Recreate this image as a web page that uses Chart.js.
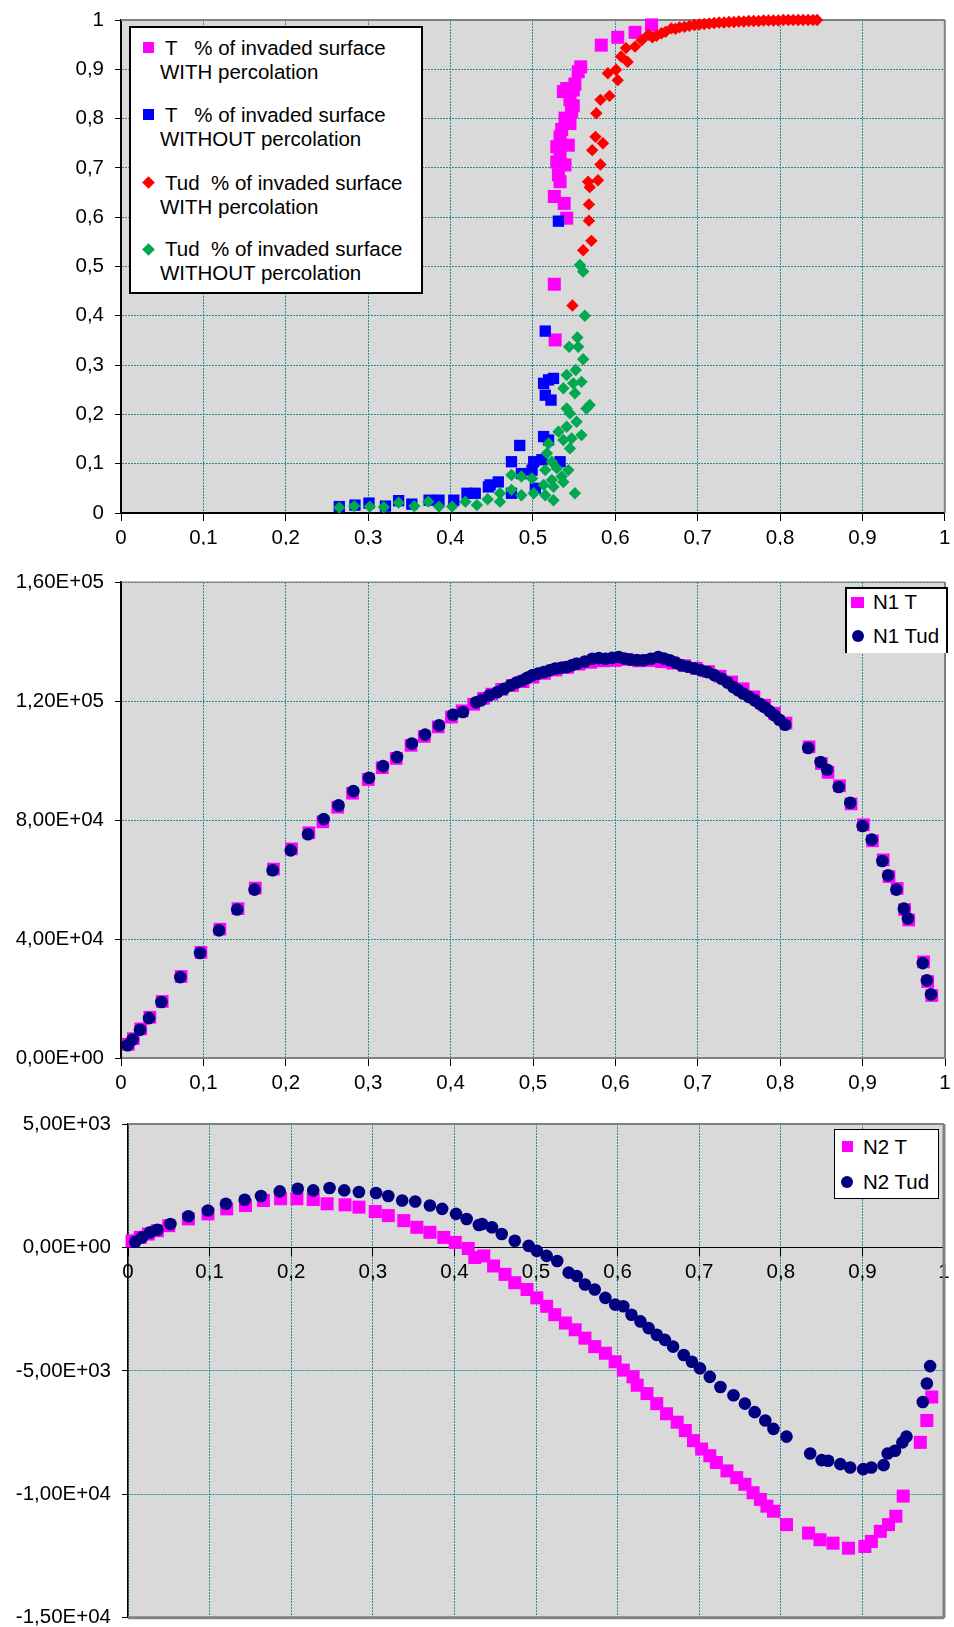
<!DOCTYPE html>
<html>
<head>
<meta charset="utf-8">
<script src="https://cdn.jsdelivr.net/npm/chart.js@4.4.1/dist/chart.umd.min.js"></script>
<style>
  body { margin: 0; background: #fff; }
  #page { position: relative; width: 954px; height: 1627px; overflow: hidden;
          font-family: "Liberation Sans", Arial, sans-serif; }
  canvas { position: absolute; left: 0; }
  .legend { position: absolute; background: #fff; box-sizing: border-box; }
  .txt { position: absolute; white-space: pre; font-size: 20.5px; line-height: 24px; color: #000; }
  .mk { position: absolute; }
</style>
</head>
<body>
<div id="page">
  <canvas id="chartPct" width="954" height="545" style="top:0px"></canvas>
  <canvas id="chartN1" width="954" height="560" style="top:545px"></canvas>
  <canvas id="chartN2" width="954" height="522" style="top:1105px"></canvas>

  <!-- legend, top chart -->
  <div class="legend" style="left:129px; top:26px; width:294px; height:268px; border:2px solid #000;">
    <span class="mk" style="left:12px; top:14px; width:11px; height:11px; background:#ff00ff;"></span>
    <span class="txt" style="left:34px; top:8px;">T   % of invaded surface</span>
    <span class="txt" style="left:29px; top:32px;">WITH percolation</span>

    <span class="mk" style="left:12px; top:81px; width:11px; height:11px; background:#0000ff;"></span>
    <span class="txt" style="left:34px; top:75px;">T   % of invaded surface</span>
    <span class="txt" style="left:29px; top:99px;">WITHOUT percolation</span>

    <span class="mk" style="left:13px; top:150px; width:9px; height:9px; background:#ff0000; transform:rotate(45deg);"></span>
    <span class="txt" style="left:34px; top:143px;">Tud  % of invaded surface</span>
    <span class="txt" style="left:29px; top:167px;">WITH percolation</span>

    <span class="mk" style="left:13px; top:217px; width:9px; height:9px; background:#00a850; transform:rotate(45deg);"></span>
    <span class="txt" style="left:34px; top:209px;">Tud  % of invaded surface</span>
    <span class="txt" style="left:29px; top:233px;">WITHOUT percolation</span>
  </div>

  <!-- legend, middle chart (bottom edge cut off as in the original) -->
  <div class="legend" style="left:845px; top:587px; width:103px; height:66px; border:2px solid #000; border-bottom:none;">
    <span class="mk" style="left:4px; top:8px; width:13px; height:11px; background:#ff00ff;"></span>
    <span class="txt" style="left:26px; top:1px;">N1 T</span>
    <span class="mk" style="left:5px; top:41px; width:12px; height:12px; border-radius:50%; background:#000080;"></span>
    <span class="txt" style="left:26px; top:35px;">N1 Tud</span>
  </div>

  <!-- legend, bottom chart -->
  <div class="legend" style="left:834px; top:1129px; width:105px; height:70px; border:1px solid #000;">
    <span class="mk" style="left:7px; top:11px; width:11px; height:11px; background:#ff00ff;"></span>
    <span class="txt" style="left:28px; top:5px;">N2 T</span>
    <span class="mk" style="left:6px; top:46px; width:12px; height:12px; border-radius:50%; background:#000080;"></span>
    <span class="txt" style="left:28px; top:40px;">N2 Tud</span>
  </div>
</div>

<script>
// tick labels
const xTickLabels = ['0', '0,1', '0,2', '0,3', '0,4', '0,5', '0,6', '0,7', '0,8', '0,9', '1'];
const pctTickLabels = ['0', '0,1', '0,2', '0,3', '0,4', '0,5', '0,6', '0,7', '0,8', '0,9', '1'];
const n1TickLabels = ['0,00E+00', '4,00E+04', '8,00E+04', '1,20E+05', '1,60E+05'];
const n2TickLabels = ['-1,50E+04', '-1,00E+04', '-5,00E+03', '0,00E+00', '5,00E+03'];

// top chart: % of invaded surface, [x, y]
const tWithPerc = [
  [0.644, 0.990], [0.624, 0.975], [0.603, 0.965], [0.583, 0.949], [0.558, 0.905], [0.555, 0.895],
  [0.551, 0.870], [0.541, 0.861], [0.537, 0.855], [0.549, 0.858], [0.545, 0.838], [0.549, 0.826],
  [0.547, 0.814], [0.539, 0.801], [0.545, 0.790], [0.535, 0.778], [0.533, 0.763], [0.529, 0.743],
  [0.543, 0.746], [0.533, 0.726], [0.529, 0.712], [0.539, 0.706], [0.531, 0.686], [0.533, 0.672],
  [0.526, 0.642], [0.538, 0.628], [0.541, 0.598], [0.526, 0.464], [0.527, 0.351]
];
const tWithoutPerc = [
  [0.531, 0.592], [0.515, 0.369], [0.513, 0.263], [0.525, 0.273], [0.519, 0.270], [0.515, 0.239],
  [0.522, 0.229], [0.513, 0.155], [0.519, 0.148], [0.484, 0.137], [0.474, 0.104], [0.501, 0.104],
  [0.511, 0.108], [0.533, 0.104], [0.486, 0.080], [0.499, 0.087], [0.446, 0.053], [0.448, 0.057],
  [0.458, 0.063], [0.474, 0.040], [0.503, 0.050], [0.420, 0.040], [0.430, 0.040], [0.404, 0.026],
  [0.386, 0.026], [0.374, 0.026], [0.353, 0.018], [0.337, 0.025], [0.321, 0.014], [0.301, 0.020],
  [0.284, 0.016], [0.265, 0.013]
];
const tudWithPerc = [
  [0.548, 0.421], [0.561, 0.533], [0.571, 0.552], [0.568, 0.593], [0.568, 0.626], [0.567, 0.672],
  [0.569, 0.661], [0.579, 0.675], [0.582, 0.707], [0.572, 0.736], [0.585, 0.750], [0.576, 0.763],
  [0.577, 0.811], [0.582, 0.838], [0.593, 0.846], [0.591, 0.892], [0.603, 0.878], [0.601, 0.899],
  [0.607, 0.926], [0.615, 0.915], [0.613, 0.943], [0.624, 0.946], [0.632, 0.959], [0.640, 0.970],
  [0.645, 0.965], [0.650, 0.968], [0.656, 0.973], [0.661, 0.976], [0.668, 0.983], [0.673, 0.982],
  [0.678, 0.985], [0.684, 0.986], [0.690, 0.988], [0.696, 0.990], [0.702, 0.991], [0.708, 0.992],
  [0.714, 0.993], [0.720, 0.994], [0.726, 0.995], [0.732, 0.995], [0.738, 0.996], [0.744, 0.996],
  [0.750, 0.997], [0.756, 0.997], [0.762, 0.998], [0.768, 0.998], [0.774, 0.998], [0.780, 0.999],
  [0.786, 0.999], [0.792, 0.999], [0.798, 0.999], [0.804, 1.0], [0.810, 1.0], [0.816, 1.0],
  [0.822, 1.0], [0.828, 1.0], [0.834, 1.0], [0.840, 1.0], [0.845, 1.0]
];
const tudWithoutPerc = [
  [0.557, 0.503], [0.561, 0.490], [0.563, 0.400], [0.554, 0.356], [0.544, 0.337], [0.555, 0.337],
  [0.561, 0.312], [0.552, 0.290], [0.541, 0.280], [0.559, 0.266], [0.549, 0.263], [0.537, 0.253],
  [0.551, 0.243], [0.541, 0.212], [0.565, 0.212], [0.569, 0.219], [0.545, 0.202], [0.553, 0.185],
  [0.531, 0.165], [0.541, 0.175], [0.559, 0.158], [0.547, 0.151], [0.537, 0.148], [0.545, 0.131],
  [0.519, 0.141], [0.517, 0.121], [0.523, 0.104], [0.515, 0.087], [0.529, 0.091], [0.543, 0.087],
  [0.535, 0.074], [0.523, 0.067], [0.537, 0.063], [0.513, 0.057], [0.525, 0.053], [0.551, 0.040],
  [0.525, 0.026], [0.515, 0.036], [0.499, 0.070], [0.486, 0.074], [0.474, 0.077], [0.501, 0.040],
  [0.486, 0.036], [0.474, 0.047], [0.460, 0.040], [0.460, 0.023], [0.445, 0.028], [0.432, 0.016],
  [0.418, 0.023], [0.402, 0.013], [0.386, 0.013], [0.373, 0.023], [0.356, 0.014], [0.337, 0.021],
  [0.319, 0.012], [0.302, 0.013], [0.283, 0.014], [0.265, 0.011]
];

// middle chart: N1
const n1T = [
  [0.009, 4600], [0.015, 6500], [0.024, 9800], [0.035, 13700], [0.050, 19000], [0.073, 27400],
  [0.097, 35500], [0.120, 43300], [0.142, 50200], [0.163, 57100], [0.185, 63500], [0.207, 70300],
  [0.228, 75700], [0.245, 79400], [0.263, 84300], [0.281, 89000], [0.300, 93600], [0.317, 97600],
  [0.334, 100700], [0.352, 105100], [0.368, 108100], [0.385, 111300], [0.401, 114600], [0.414, 116700],
  [0.428, 118900], [0.440, 120900], [0.450, 122300], [0.462, 123900], [0.475, 125200], [0.488, 126500],
  [0.500, 128000], [0.514, 129300], [0.528, 130400], [0.542, 131300], [0.556, 132400], [0.570, 133000],
  [0.585, 133500], [0.600, 133600], [0.614, 134000], [0.628, 133500], [0.642, 133600], [0.656, 133200],
  [0.670, 132700], [0.684, 131900], [0.698, 131000], [0.713, 129900], [0.727, 128300], [0.741, 126400],
  [0.755, 124100], [0.768, 121400], [0.781, 118600], [0.793, 115900], [0.807, 112600], [0.835, 104600],
  [0.850, 99000], [0.858, 96000], [0.872, 91500], [0.886, 85400], [0.901, 78400], [0.912, 73000],
  [0.925, 66600], [0.932, 61000], [0.942, 57000], [0.951, 49900], [0.956, 46400], [0.974, 32300],
  [0.979, 25700], [0.984, 21000]
];
const n1Tud = [
  [0.008, 4300], [0.014, 6200], [0.023, 9500], [0.034, 13400], [0.049, 18800], [0.072, 27200],
  [0.096, 35300], [0.119, 42900], [0.141, 49900], [0.162, 56600], [0.184, 63100], [0.206, 69800],
  [0.227, 75200], [0.246, 80300], [0.264, 84900], [0.282, 89700], [0.301, 94200], [0.318, 98100],
  [0.335, 101200], [0.353, 105700], [0.369, 108700], [0.386, 111800], [0.403, 115400], [0.415, 116300],
  [0.431, 119600], [0.437, 120200], [0.447, 121900], [0.457, 123000], [0.465, 124100], [0.473, 125300],
  [0.480, 126200], [0.487, 126900], [0.493, 127800], [0.499, 128600], [0.506, 129200], [0.513, 129700],
  [0.520, 130300], [0.527, 130900], [0.534, 131200], [0.541, 131400], [0.547, 132000], [0.553, 132500],
  [0.563, 133300], [0.572, 134200], [0.580, 134400], [0.588, 134200], [0.596, 134500], [0.604, 134800],
  [0.611, 134300], [0.618, 133900], [0.626, 133800], [0.634, 133700], [0.643, 134200], [0.652, 134800],
  [0.659, 134300], [0.666, 133700], [0.673, 132900], [0.680, 132000], [0.688, 131500], [0.696, 130900],
  [0.704, 130300], [0.712, 129700], [0.720, 128700], [0.729, 127500], [0.736, 126200], [0.743, 124700],
  [0.749, 123600], [0.755, 122500], [0.762, 121400], [0.769, 120200], [0.775, 119100], [0.781, 118000],
  [0.787, 116600], [0.793, 115200], [0.799, 113700], [0.806, 112000], [0.834, 104200], [0.849, 99500],
  [0.857, 96900], [0.871, 91100], [0.885, 85800], [0.900, 78000], [0.911, 73400], [0.924, 66200],
  [0.931, 61400], [0.941, 56600], [0.950, 50200], [0.955, 46900], [0.973, 31900], [0.978, 26100],
  [0.983, 21400]
];

// bottom chart: N2
const n2T = [
  [0.005, 269], [0.015, 408], [0.025, 543], [0.036, 678], [0.050, 882], [0.074, 1155],
  [0.098, 1359], [0.121, 1563], [0.144, 1698], [0.166, 1902], [0.187, 1972], [0.207, 1972],
  [0.227, 1943], [0.244, 1768], [0.266, 1727], [0.283, 1633], [0.303, 1453], [0.319, 1290],
  [0.338, 1086], [0.354, 816], [0.370, 612], [0.387, 408], [0.401, 204], [0.417, -41],
  [0.425, -408], [0.436, -343], [0.448, -751], [0.462, -1090], [0.474, -1429], [0.489, -1702],
  [0.501, -2041], [0.513, -2384], [0.523, -2723], [0.536, -3062], [0.548, -3335], [0.560, -3674],
  [0.572, -4017], [0.585, -4286], [0.597, -4629], [0.607, -4968], [0.619, -5241], [0.624, -5580],
  [0.636, -5919], [0.648, -6327], [0.660, -6735], [0.673, -7078], [0.683, -7417], [0.693, -7825],
  [0.703, -8164], [0.713, -8437], [0.721, -8711], [0.734, -9050], [0.746, -9323], [0.756, -9593],
  [0.766, -9936], [0.775, -10205], [0.783, -10479], [0.791, -10683], [0.807, -11226], [0.834, -11569],
  [0.848, -11838], [0.864, -11977], [0.883, -12181], [0.903, -12112], [0.911, -11907], [0.922, -11499],
  [0.932, -11226], [0.941, -10887], [0.950, -10071], [0.971, -7895], [0.979, -7009], [0.985, -6058]
];
const n2Tud = [
  [0.009, 229], [0.017, 408], [0.027, 612], [0.036, 718], [0.052, 951], [0.074, 1265],
  [0.098, 1494], [0.120, 1768], [0.143, 1931], [0.163, 2082], [0.186, 2270], [0.208, 2380],
  [0.227, 2311], [0.247, 2408], [0.265, 2311], [0.283, 2245], [0.304, 2204], [0.319, 2082],
  [0.336, 1902], [0.352, 1861], [0.370, 1698], [0.385, 1563], [0.402, 1359], [0.415, 1155],
  [0.430, 910], [0.434, 951], [0.446, 816], [0.458, 543], [0.474, 269], [0.491, 65],
  [0.501, -139], [0.513, -343], [0.526, -547], [0.540, -1020], [0.550, -1159], [0.560, -1498],
  [0.572, -1702], [0.585, -2041], [0.597, -2314], [0.607, -2384], [0.617, -2723], [0.628, -2996],
  [0.638, -3266], [0.648, -3539], [0.658, -3743], [0.668, -4017], [0.681, -4356], [0.691, -4629],
  [0.701, -4898], [0.713, -5241], [0.726, -5650], [0.742, -5988], [0.756, -6327], [0.768, -6670],
  [0.781, -7009], [0.791, -7348], [0.807, -7662], [0.836, -8344], [0.850, -8613], [0.858, -8642],
  [0.873, -8776], [0.885, -8915], [0.901, -8980], [0.911, -8915], [0.926, -8817], [0.931, -8344],
  [0.940, -8233], [0.949, -7895], [0.954, -7662], [0.974, -6262], [0.979, -5511], [0.983, -4805]
];

const GRID_COLOR = '#2b8c8c';
const FRAME_COLOR = '#808080';
const PLOT_FILL = '#d9d9d9';

Chart.defaults.font.family = '"Liberation Sans", Arial, sans-serif';
Chart.defaults.font.size = 20.5;
Chart.defaults.color = '#000';

// grey plot background and the light frame on the sides without an axis
const plotFrame = {
  id: 'frame',
  beforeDraw(chart, args, opts) {
    const { ctx, chartArea: a } = chart;
    ctx.save();
    ctx.fillStyle = PLOT_FILL;
    ctx.fillRect(a.left, a.top, a.right - a.left, a.bottom - a.top);
    ctx.restore();
  },
  beforeDatasetsDraw(chart, args, opts) {
    const { ctx, chartArea: a } = chart;
    ctx.save();
    ctx.strokeStyle = FRAME_COLOR;
    Object.keys(opts.sides || {}).forEach((side) => {
      ctx.lineWidth = opts.sides[side];
      ctx.beginPath();
      if (side === 'top') { ctx.moveTo(a.left, a.top); ctx.lineTo(a.right, a.top); }
      if (side === 'right') { ctx.moveTo(a.right, a.top); ctx.lineTo(a.right, a.bottom); }
      if (side === 'bottom') { ctx.moveTo(a.left, a.bottom); ctx.lineTo(a.right, a.bottom); }
      ctx.stroke();
    });
    ctx.restore();
  }
};

function toPoints(list) {
  return list.map(([x, y]) => ({ x, y }));
}

function series(label, list, style, radius, color, order) {
  return {
    label,
    data: toPoints(list),
    pointStyle: style,
    pointRadius: radius,
    backgroundColor: color,
    borderWidth: 0,
    clip: false,
    order
  };
}

function makeChart(id, datasets, cfg) {
  return new Chart(document.getElementById(id), {
    type: 'scatter',
    data: { datasets },
    options: {
      responsive: false,
      animation: false,
      devicePixelRatio: 1,
      events: [],
      layout: { padding: cfg.padding },
      plugins: {
        legend: { display: false },
        tooltip: { enabled: false },
        frame: { sides: cfg.frame }
      },
      scales: {
        x: {
          type: 'linear',
          min: 0,
          max: 1,
          position: cfg.xPosition || 'bottom',
          afterFit: (scale) => {
            scale.height = cfg.xHeight;
            scale.paddingLeft = 0;
            scale.paddingRight = 0;
          },
          ticks: {
            stepSize: 0.1,
            autoSkip: false,
            maxRotation: 0,
            padding: 5,
            callback: (v, i) => xTickLabels[i]
          },
          grid: { color: GRID_COLOR, tickColor: '#000', tickLength: 8, tickBorderDash: [] },
          border: { color: cfg.xBorder[0], width: cfg.xBorder[1], dash: [2, 1] }
        },
        y: {
          type: 'linear',
          min: cfg.yMin,
          max: cfg.yMax,
          afterFit: (scale) => {
            scale.width = cfg.yWidth;
            scale.paddingTop = 0;
            scale.paddingBottom = 0;
          },
          ticks: {
            stepSize: cfg.yStep,
            autoSkip: false,
            padding: 11,
            callback: (v, i) => cfg.yLabels[i]
          },
          grid: { color: GRID_COLOR, tickColor: '#000', tickLength: 6, tickBorderDash: [] },
          border: { color: cfg.yBorder[0], width: cfg.yBorder[1], dash: [2, 1] }
        }
      }
    },
    plugins: [plotFrame]
  });
}

makeChart('chartPct', [
  series('Tud % of invaded surface WITHOUT percolation', tudWithoutPerc, 'rectRot', 6.2, '#00a850', 0),
  series('Tud % of invaded surface WITH percolation', tudWithPerc, 'rectRot', 6.2, '#ff0000', 1),
  series('T % of invaded surface WITHOUT percolation', tWithoutPerc, 'rect', 8, '#0000ff', 2),
  series('T % of invaded surface WITH percolation', tWithPerc, 'rect', 9.2, '#ff00ff', 3)
], {
  padding: { top: 20, right: 6 },
  yWidth: 121, xHeight: 32,
  yMin: 0, yMax: 1, yStep: 0.1, yLabels: pctTickLabels,
  xBorder: ['#000', 2], yBorder: ['#000', 2],
  frame: { top: 2, right: 2 }
});

makeChart('chartN1', [
  series('N1 Tud', n1Tud, 'circle', 6.3, '#000080', 0),
  series('N1 T', n1T, 'rect', 9, '#ff00ff', 1)
], {
  padding: { top: 37, right: 4 },
  yWidth: 121, xHeight: 47,
  yMin: 0, yMax: 160000, yStep: 40000, yLabels: n1TickLabels,
  xBorder: [FRAME_COLOR, 2], yBorder: ['#000', 2],
  frame: { top: 1, right: 2 }
});

makeChart('chartN2', [
  series('N2 Tud', n2Tud, 'circle', 6.3, '#000080', 0),
  series('N2 T', n2T, 'rect', 9.2, '#ff00ff', 1)
], {
  padding: { top: 19, right: 10 },
  yWidth: 128, xHeight: 9,
  xPosition: { y: 0 },
  yMin: -15000, yMax: 5000, yStep: 5000, yLabels: n2TickLabels,
  xBorder: ['#000', 1], yBorder: ['#000', 1.5],
  frame: { top: 2, right: 3, bottom: 3 }
});
</script>
</body>
</html>
